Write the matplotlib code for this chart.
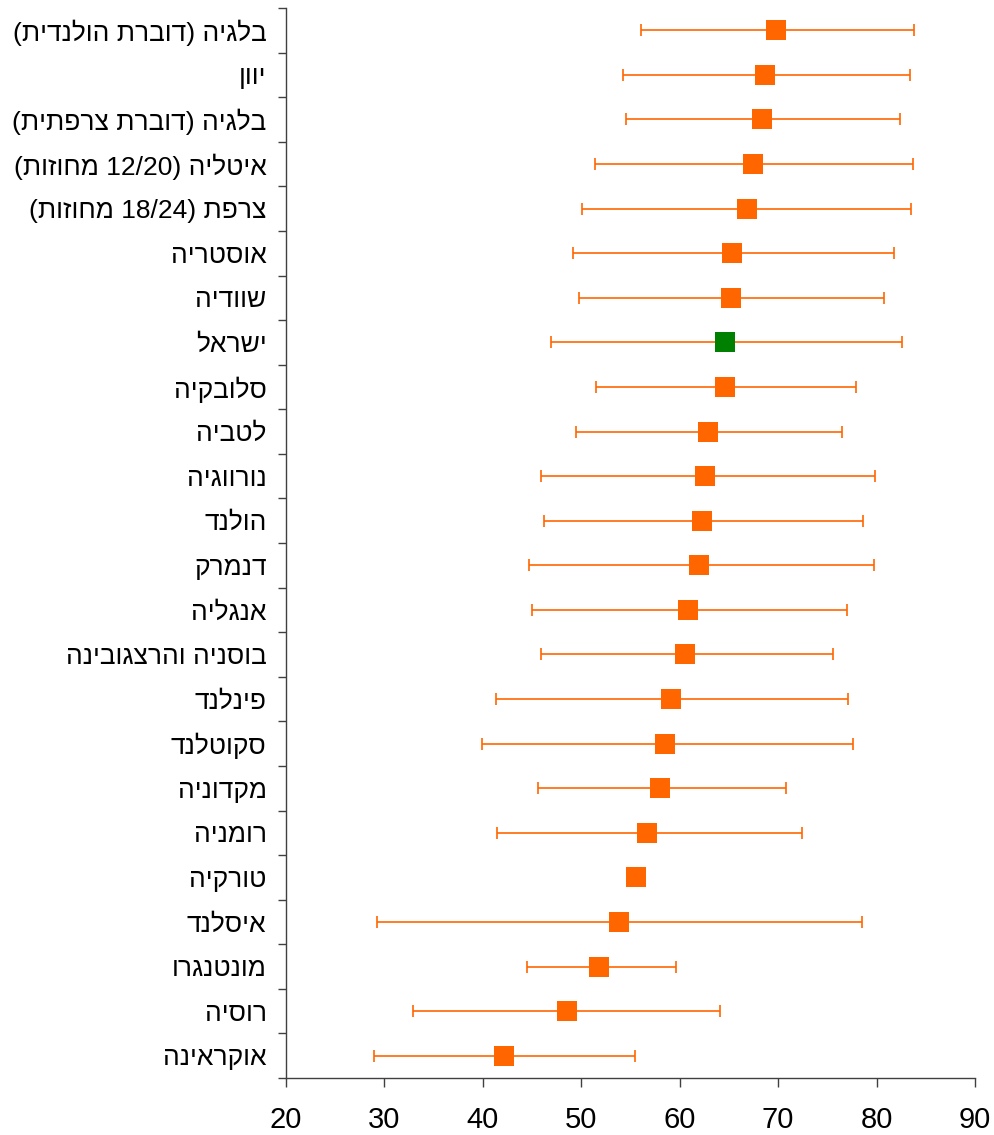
import re
import numpy as np
import matplotlib
matplotlib.use("Agg")
import matplotlib.pyplot as plt

plt.rcParams["font.family"] = ["Liberation Sans", "DejaVu Sans"]

# countries, top to bottom (logical Hebrew text)
countries = [
    "בלגיה (דוברת הולנדית)",
    "יוון",
    "בלגיה (דוברת צרפתית)",
    "איטליה (12/20 מחוזות)",
    "צרפת (18/24 מחוזות)",
    "אוסטריה",
    "שוודיה",
    "ישראל",
    "סלובקיה",
    "לטביה",
    "נורווגיה",
    "הולנד",
    "דנמרק",
    "אנגליה",
    "בוסניה והרצגובינה",
    "פינלנד",
    "סקוטלנד",
    "מקדוניה",
    "רומניה",
    "טורקיה",
    "איסלנד",
    "מונטנגרו",
    "רוסיה",
    "אוקראינה",
]
means = [69.8, 68.7, 68.4, 67.4, 66.8, 65.35, 65.25, 64.6, 64.6, 62.9, 62.6, 62.3,
         62.0, 60.8, 60.5, 59.15, 58.5, 58.0, 56.7, 55.6, 53.8, 51.8, 48.5, 42.1]
lows = [56.1, 54.2, 54.5, 51.4, 50.1, 49.2, 49.8, 46.9, 51.5, 49.5, 45.9, 46.2,
        44.65, 45.0, 45.9, 41.3, 39.9, 45.6, 41.4, np.nan, 29.2, 44.45, 32.9, 28.9]
highs = [83.8, 83.4, 82.4, 83.7, 83.5, 81.8, 80.75, 82.6, 77.9, 76.5, 79.8, 78.6,
         79.7, 77.0, 75.6, 77.1, 77.6, 70.8, 72.4, np.nan, 78.5, 59.6, 64.1, 55.5]
highlight = "ישראל"

orange = "#FF6600"
green = "#008000"


def visual(s):
    # matplotlib has no bidi, so reorder the Hebrew for display
    mirror = str.maketrans("()", ")(")
    parts = re.split(r"(\d+(?:/\d+)*)", s)
    out = []
    for p in reversed(parts):
        if re.fullmatch(r"\d+(?:/\d+)*", p):
            out.append(p)
        else:
            out.append(p[::-1].translate(mirror))
    return "".join(out)


fig = plt.figure(figsize=(9.95, 11.35), dpi=100)
ax = fig.add_axes([286 / 995, 1 - 1078 / 1135, (975 - 286) / 995, (1078 - 8) / 1135])

y = np.arange(len(countries))
means_a = np.array(means)
lows_a = np.array(lows)
highs_a = np.array(highs)
ok = ~np.isnan(lows_a)

ax.errorbar(means_a[ok], y[ok],
            xerr=[means_a[ok] - lows_a[ok], highs_a[ok] - means_a[ok]],
            fmt="none", ecolor=orange, elinewidth=1.2, capsize=4.5, capthick=1.2,
            zorder=2)
colors = [green if c == highlight else orange for c in countries]
for xi, yi, c in zip(means, y, colors):
    ax.plot(xi, yi, marker="s", ms=15, mew=0, color=c, linestyle="none", zorder=3)

ax.set_xlim(20, 90)
ax.set_ylim(len(countries) - 0.5, -0.5)
ax.set_xticks(np.arange(20, 91, 10))
ax.set_yticks(y)
ax.set_yticklabels([visual(c) for c in countries])
ax.set_yticks(np.arange(-0.5, len(countries), 1), minor=True)

for side in ["top", "right"]:
    ax.spines[side].set_visible(False)
for side in ["left", "bottom"]:
    ax.spines[side].set_color("#404040")
    ax.spines[side].set_linewidth(1)

ax.tick_params(axis="y", which="major", length=0, pad=14, labelsize=19)
ax.tick_params(axis="y", which="minor", length=6, width=1, color="#404040")
ax.tick_params(axis="x", which="major", length=6.5, width=1, color="#404040",
               pad=14, labelsize=21)

fig.savefig("out.png", dpi=100)
